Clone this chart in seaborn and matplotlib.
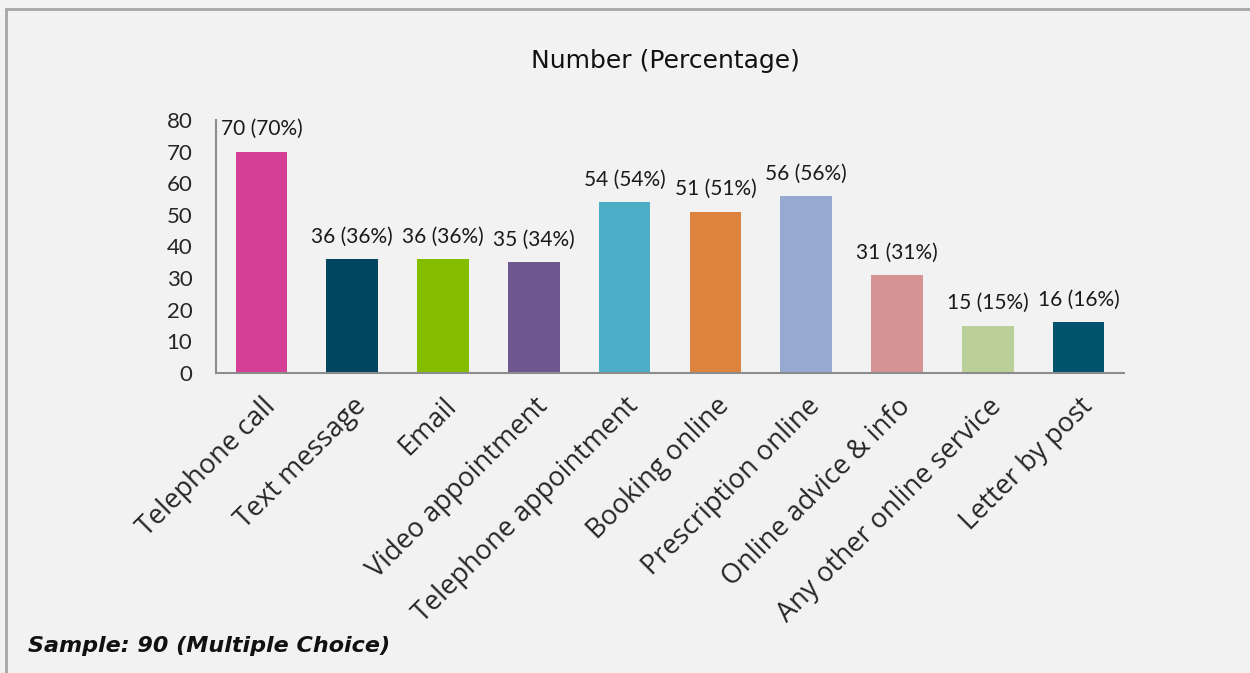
import matplotlib
matplotlib.use("Agg")
import matplotlib.pyplot as plt
import seaborn as sns
import pandas as pd
from matplotlib.lines import Line2D

# chart data
categories = ["Telephone call", "Text message", "Email", "Video appointment",
              "Telephone appointment", "Booking online", "Prescription online",
              "Online advice & info", "Any other online service", "Letter by post"]
counts = [70, 36, 36, 35, 54, 51, 56, 31, 15, 16]
percents = [70, 36, 36, 34, 54, 51, 56, 31, 15, 16]
bar_colors = ["#d63f96", "#01455e", "#84bd00", "#6f588f", "#4badc6",
              "#dd833e", "#95a9d1", "#d59393", "#bbd098", "#01526d"]
y_ticks = [0, 10, 20, 30, 40, 50, 60, 70, 80]

df = pd.DataFrame({"category": categories, "count": counts})

sns.set_style("white")
plt.rcParams["font.family"] = ["Lato", "DejaVu Sans"]

bg = "#f2f2f2"
fig = plt.figure(figsize=(12.5, 6.73), dpi=100, facecolor=bg)
ax = fig.add_axes([0.1728, 0.4458, 0.7264, 0.3759])
ax.set_facecolor(bg)

sns.barplot(data=df, x="category", y="count", hue="category",
            palette=bar_colors, legend=False, width=0.57, saturation=1,
            linewidth=0, ax=ax)

for i, (c, p) in enumerate(zip(counts, percents)):
    ax.annotate(f"{c} ({p}%)", (i, c), xytext=(0, 9), textcoords="offset points",
                ha="center", va="bottom", fontsize=15, color="#1a1a1a")

ax.set_ylim(0, 80)
ax.set_xlim(-0.5, len(categories) - 0.5)
ax.set_yticks(y_ticks)
ax.tick_params(axis="y", labelsize=16, length=0, pad=17)
ax.tick_params(axis="x", length=0, pad=14)
ax.set_xticks(range(len(categories)))
ax.set_xticklabels(categories, rotation=45, ha="right", rotation_mode="anchor",
                   fontsize=19.5, family="Open Sans")
ax.set_xlabel("")
ax.set_ylabel("")

for s in ["top", "right"]:
    ax.spines[s].set_visible(False)
for s in ["left", "bottom"]:
    ax.spines[s].set_color("#8c8c8c")
    ax.spines[s].set_linewidth(1.5)

fig.text(0.532, 0.91, "Number (Percentage)", ha="center", va="center",
         fontsize=18, color="#111111", family="DejaVu Sans")
fig.text(0.022, 0.04, "Sample: 90 (Multiple Choice)", ha="left", va="center",
         fontsize=16, fontweight="bold", style="italic",
         family="DejaVu Sans", color="#111111")

# outer frame (top and left)
fig.add_artist(Line2D([0.005, 0.005], [0, 0.987], transform=fig.transFigure,
                      color="#a6a6a6", lw=2))
fig.add_artist(Line2D([0.005, 1.0], [0.987, 0.987], transform=fig.transFigure,
                      color="#a6a6a6", lw=2))

fig.savefig("out.png", dpi=100, facecolor=bg)
